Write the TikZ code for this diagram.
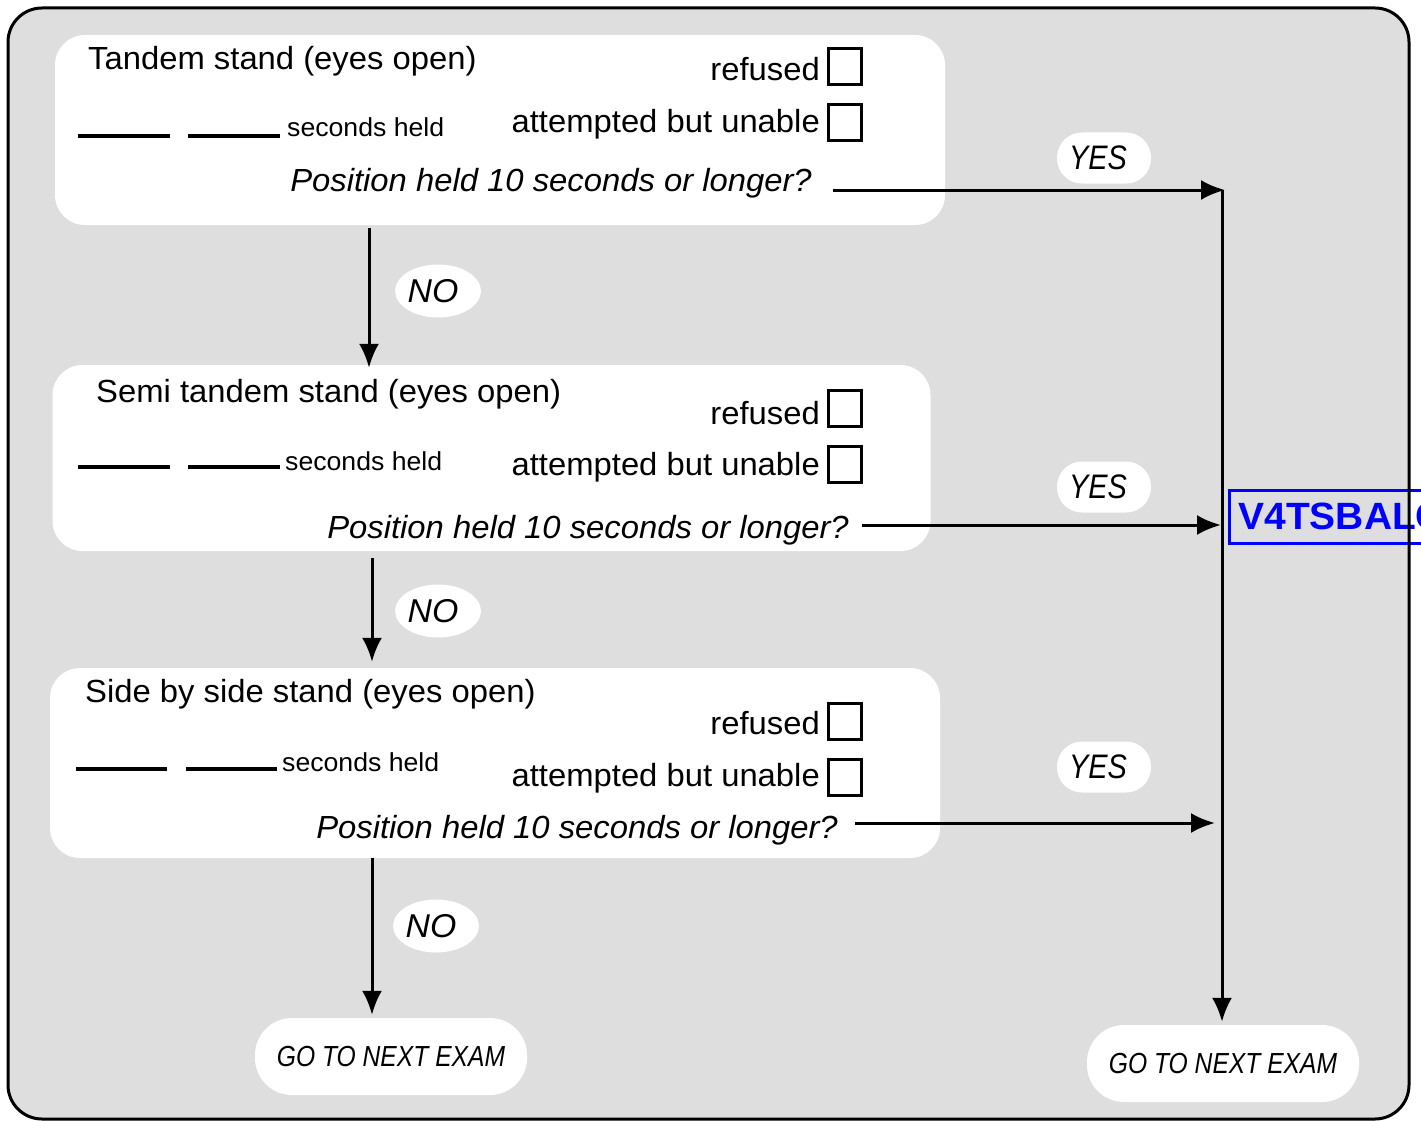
\documentclass[tikz,border=0pt]{standalone}
\usepackage{fontspec}
\setmainfont[FakeStretch=1.025]{Liberation Sans}
\newfontfamily\narrowsans[FakeStretch=0.85]{Liberation Sans}
\usetikzlibrary{arrows.meta,shapes.geometric,calc}
\definecolor{bggray}{RGB}{222,222,222}
\definecolor{tagblue}{RGB}{0,0,255}
\tikzset{
  panel/.style={fill=white, rounded corners=30pt, inner sep=0pt},
  lbl/.style={inner sep=0pt, font=\fontsize{32}{32}\selectfont},
  qlbl/.style={inner sep=0pt, font=\itshape\fontsize{32}{32}\selectfont},
  small/.style={inner sep=0pt, font=\fontsize{26}{26}\selectfont},
  chk/.style={draw, line width=3pt, minimum width=33pt, minimum height=36pt, inner sep=0pt},
  blank/.style={line width=4pt},
  yespill/.style={fill=white, rounded corners=25pt, minimum width=94pt, minimum height=51pt, inner sep=0pt,
    font=\narrowsans\itshape\fontsize{34}{34}\selectfont},
  nopill/.style={ellipse, fill=white, minimum width=78pt, minimum height=53pt, inner sep=0pt,
    font=\itshape\fontsize{33}{33}\selectfont},
  gobox/.style={fill=white, rounded corners=37pt, minimum width=272pt, minimum height=77pt, inner sep=0pt,
    font=\narrowsans\itshape\fontsize{29}{29}\selectfont},
  arr/.style={line width=3pt, -{Latex[length=24pt,width=20pt]}},
  plain/.style={line width=3pt}
}
\begin{document}
\begin{tikzpicture}[x=1pt,y=-1pt]
\useasboundingbox (0,0) rectangle (1421,1121);
\clip (0,0) rectangle (1421,1121);
% outer frame fill
\fill[bggray, rounded corners=34pt] (8,8) rectangle (1409,1119);

% panels
\node[panel, minimum width=890pt, minimum height=190pt] (b1) at (500,130) {};
\node[panel, minimum width=878pt, minimum height=186pt] (b2) at (491.5,458) {};
\node[panel, minimum width=890pt, minimum height=190pt] (b3) at (495,763) {};

% box 1
\node[lbl, anchor=base west] (t1) at (88,70) {Tandem stand (eyes open)};
\node[lbl, anchor=base east] (r1) at (820,81) {refused};
\node[lbl, anchor=base east] (a1) at (820,133) {attempted but unable};
\node[chk] (c1a) at (844.5,67) {};
\node[chk] (c1b) at (844.5,122.5) {};
\draw[blank] (78,136) -- (170,136);
\draw[blank] (188,136) -- (280,136);
\node[small, anchor=base west] (s1) at (287,137) {seconds held};
\node[qlbl, anchor=base east] (q1) at (812,191) {Position held 10 seconds or longer?};

% box 2
\node[lbl, anchor=base west] (t2) at (96,402) {Semi tandem stand (eyes open)};
\node[lbl, anchor=base east] (r2) at (820,424) {refused};
\node[lbl, anchor=base east] (a2) at (820,475) {attempted but unable};
\node[chk] (c2a) at (844.5,408.5) {};
\node[chk] (c2b) at (844.5,464.5) {};
\draw[blank] (78,466.5) -- (170,466.5);
\draw[blank] (188,466.5) -- (280,466.5);
\node[small, anchor=base west] (s2) at (285,470) {seconds held};
\node[qlbl, anchor=base east] (q2) at (849,538) {Position held 10 seconds or longer?};

% box 3
\node[lbl, anchor=base west] (t3) at (85,702) {Side by side stand (eyes open)};
\node[lbl, anchor=base east] (r3) at (820,734) {refused};
\node[lbl, anchor=base east] (a3) at (820,786) {attempted but unable};
\node[chk] (c3a) at (844.5,721.5) {};
\node[chk] (c3b) at (844.5,777) {};
\draw[blank] (76,768.5) -- (167,768.5);
\draw[blank] (186,768.5) -- (277,768.5);
\node[small, anchor=base west] (s3) at (282,771) {seconds held};
\node[qlbl, anchor=base east] (q3) at (838,838) {Position held 10 seconds or longer?};

% end boxes
\node[gobox] (g1) at (391,1056.5) {GO TO NEXT EXAM};
\node[gobox] (g2) at (1223,1063.5) {GO TO NEXT EXAM};

% pills
\node[yespill] (y1) at (1104,158) {YES\hspace*{12pt}};
\node[yespill] (y2) at (1104,487) {YES\hspace*{12pt}};
\node[yespill] (y3) at (1104,767) {YES\hspace*{12pt}};
\node[nopill] (n1) at (438,291) {NO\hspace*{10pt}};
\node[nopill] (n2) at (438,611) {NO\hspace*{10pt}};
\node[nopill] (n3) at (436,926) {NO\hspace*{10pt}};

% trunk and connectors
\coordinate (tTop) at (1222,190);
\coordinate (tMid) at (1222,525);
\coordinate (tLow) at (1215,823);
\coordinate (s1a) at (833,190);
\coordinate (s2a) at (862,525);
\coordinate (s3a) at (855,823);
\draw[arr] (tTop) -- ([xshift=-1pt,yshift=3pt]g2.north);
\draw[arr] (s1a) -- ([xshift=3pt]tTop);
\draw[arr] (s2a) -- ([xshift=-1pt]tMid);
\draw[arr] (s3a) -- (tLow);

\draw[arr] ([xshift=-131pt,yshift=-3pt]b1.south) -- ([xshift=-122.5pt,yshift=-3pt]b2.north);
\draw[arr] ([xshift=-119.5pt,yshift=-7pt]b2.south) -- ([xshift=-123pt,yshift=6pt]b3.north);
\draw[arr] ([xshift=-123pt]b3.south) -- ([xshift=-19pt,yshift=3pt]g1.north);

% blue tag
\node[draw=tagblue, line width=3pt, text=tagblue, anchor=west, inner xsep=9pt, inner ysep=4pt,
  minimum height=53pt, font=\bfseries\fontsize{38}{38}\selectfont] (tag) at (1228,516.5) {V4TSBALC};

% frame stroke
\draw[line width=3pt, rounded corners=34pt] (8,8) rectangle (1409,1119);
\end{tikzpicture}
\end{document}
